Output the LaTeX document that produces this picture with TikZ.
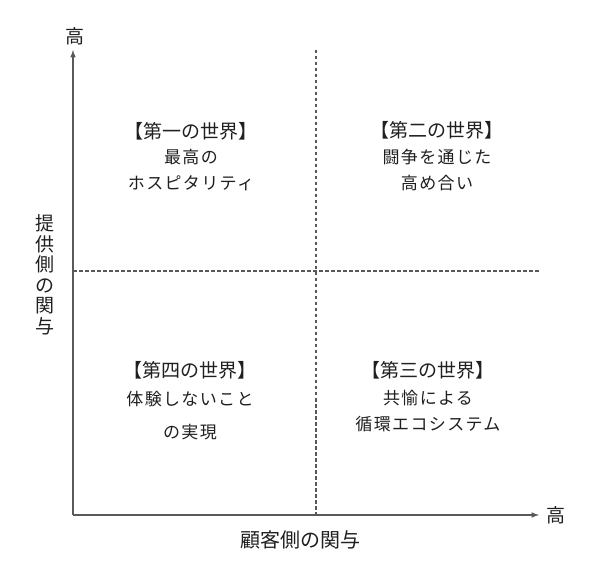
\documentclass[tikz,border=0pt]{standalone}
\usepackage{fontspec}
\setmainfont{Noto Sans CJK JP}
\newfontfamily\bodyfont[LetterSpace=8]{Noto Sans CJK JP}
\usetikzlibrary{arrows, positioning}

\tikzset{
	axisline/.style={draw=black!65, line width=1.5pt},
	gridline/.style={draw=black!65, line width=1.1pt, dash pattern=on 3.5pt off 2.5pt},
	worldtitle/.style={font=\fontsize{19}{22}\selectfont, text=black!88, inner sep=0pt},
	worldtext/.style={font=\bodyfont\fontsize{17}{26}\selectfont, text=black!88, align=center, inner sep=0pt},
	axislabel/.style={font=\fontsize{20}{21}\selectfont, text=black!88, inner sep=0pt}
}

\begin{document}
\begin{tikzpicture}[x=1pt, y=-1pt]
				\useasboundingbox (0,0) rectangle (600,577);
				% axes
				\coordinate (O) at (73,515);
				\coordinate (ytip) at (73,50);
				\coordinate (xtip) at (539,515);
				\draw[axisline, -latex] (O) -- (ytip);
				\draw[axisline, -latex] (O) -- (xtip);
				\node[axislabel, font=\fontsize{19}{21}\selectfont] (yhigh) at (75,36) {高};
				\node[axislabel, font=\fontsize{19}{21}\selectfont] (xhigh) at (556,515) {高};
				% dashed quadrant lines
				\coordinate (vtop) at (316,50);
				\coordinate (vbot) at (316,515);
				\coordinate (hleft) at (73,271);
				\coordinate (hright) at (539,271);
				\draw[gridline] (vtop) -- (vbot);
				\draw[gridline] (hleft) -- (hright);
				% axis titles
				\node[axislabel, align=center, font=\fontsize{19}{20.5}\selectfont] (ylabel) at (45,275) {提\\供\\側\\の\\関\\与};
				\node[axislabel] (xlabel) at (300,540) {顧客側の関与};
				% quadrants
				\node[worldtitle] (w1) at (191,131) {【第一の世界】};
				\node[worldtext, below=9pt of w1] (w1text) {最高の\\ホスピタリティ};
				\node[worldtitle] (w2) at (437,130) {【第二の世界】};
				\node[worldtext, below=10pt of w2] (w2text) {闘争を通じた\\高め合い};
				\node[worldtitle] (w4) at (190,370) {【第四の世界】};
				\node[worldtext, below=12pt of w4, font=\bodyfont\fontsize{17}{33}\selectfont] (w4text) {体験しないこと\\の実現};
				\node[worldtitle] (w3) at (428,370) {【第三の世界】};
				\node[worldtext, below=11pt of w3] (w3text) {共愉による\\循環エコシステム};
			\end{tikzpicture}
\end{document}
